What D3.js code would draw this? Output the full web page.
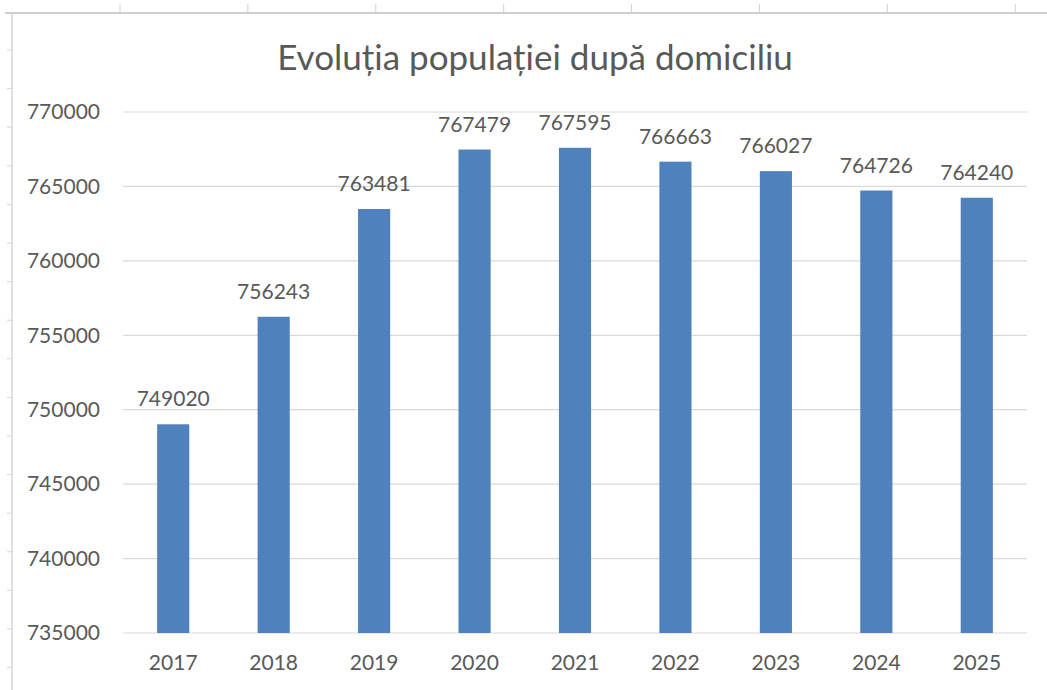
<!DOCTYPE html>
<html>
<head>
<meta charset="utf-8">
<script src="https://cdn.jsdelivr.net/npm/d3@7"></script>
<style>
  body { margin: 0; background: #fff; }
  text { font-family: Lato, "Open Sans", sans-serif; fill: #595959; }
</style>
</head>
<body>
<div id="chart"></div>
<script>
var years = ["2017", "2018", "2019", "2020", "2021", "2022", "2023", "2024", "2025"];
var population = [749020, 756243, 763481, 767479, 767595, 766663, 766027, 764726, 764240];
var yTicks = [735000, 740000, 745000, 750000, 755000, 760000, 765000, 770000];
var title = "Evoluția populației după domiciliu";

var width = 1047;
var height = 690;
var margin = { top: 112, right: 20, bottom: 57, left: 123 };

var svg = d3
  .select("#chart")
  .append("svg")
  .attr("width", width)
  .attr("height", height);

// spreadsheet frame behind the chart
svg.append("line")
  .attr("x1", 5).attr("x2", width)
  .attr("y1", 13).attr("y2", 13)
  .style("stroke", "#cfcfcf").style("stroke-width", "2px");
svg.append("line")
  .attr("x1", 12).attr("x2", 12)
  .attr("y1", 13).attr("y2", height)
  .style("stroke", "#d6d6d6").style("stroke-width", "1.5px");
d3.range(120, width, 127.9).forEach(function(x) {
  svg.append("line")
    .attr("x1", x).attr("x2", x).attr("y1", 4).attr("y2", 13)
    .style("stroke", "#d0d0d0");
});
d3.range(50, height, 38.6).forEach(function(y) {
  svg.append("line")
    .attr("x1", 7).attr("x2", 12).attr("y1", y).attr("y2", y)
    .style("stroke", "#d6d6d6");
});

var x = d3.scaleBand()
  .domain(years)
  .range([margin.left, width - margin.right])
  .paddingInner(0.68)
  .paddingOuter(0.34);

var y = d3.scaleLinear()
  .domain([735000, 770000])
  .range([height - margin.bottom, margin.top]);

// gridlines
svg.append("g")
  .selectAll("line")
  .data(yTicks)
  .enter()
  .append("line")
  .attr("x1", margin.left)
  .attr("x2", width - margin.right)
  .attr("y1", function(d) { return y(d); })
  .attr("y2", function(d) { return y(d); })
  .style("stroke", "#d9d9d9")
  .style("stroke-width", "1.2px");

// y labels
svg.append("g")
  .selectAll("text")
  .data(yTicks)
  .enter()
  .append("text")
  .attr("x", 100)
  .attr("y", function(d) { return y(d); })
  .attr("dy", ".35em")
  .attr("text-anchor", "end")
  .style("font-size", "21px")
  .text(function(d) { return d; });

// bars
svg.append("g")
  .selectAll("rect")
  .data(population)
  .enter()
  .append("rect")
  .attr("x", function(d, i) { return x(years[i]); })
  .attr("width", x.bandwidth())
  .attr("y", function(d) { return y(d); })
  .attr("height", function(d) { return y(735000) - y(d); })
  .style("fill", "#4f81bd");

// value labels
svg.append("g")
  .selectAll("text")
  .data(population)
  .enter()
  .append("text")
  .attr("x", function(d, i) { return x(years[i]) + x.bandwidth() / 2; })
  .attr("y", function(d) { return y(d) - 18; })
  .attr("text-anchor", "middle")
  .style("font-size", "21px")
  .text(function(d) { return d; });

// x labels
svg.append("g")
  .selectAll("text")
  .data(years)
  .enter()
  .append("text")
  .attr("x", function(d) { return x(d) + x.bandwidth() / 2; })
  .attr("y", y(735000) + 30)
  .attr("dy", ".35em")
  .attr("text-anchor", "middle")
  .style("font-size", "21px")
  .text(function(d) { return d; });

svg.append("text")
  .attr("x", 535)
  .attr("y", 70)
  .attr("text-anchor", "middle")
  .style("font-size", "35px")
  .text(title);
</script>
</body>
</html>
